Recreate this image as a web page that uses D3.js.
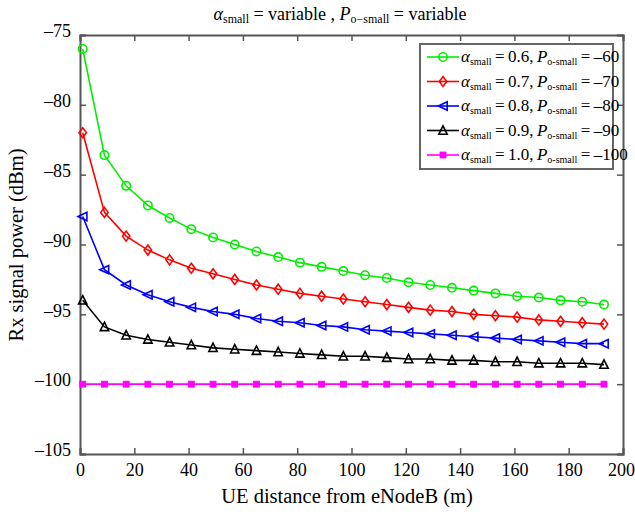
<!DOCTYPE html>
<html><head><meta charset="utf-8">
<script src="https://cdn.jsdelivr.net/npm/d3@7"></script>
<style>body{margin:0;background:#fff}svg{display:block}</style>
</head><body><svg id="c" width="635" height="517"></svg>
<script>
const distance = [1,9,17,25,33,41,49,57,65,73,81,89,97,105,113,121,129,137,145,153,161,169,177,185,193];
const series06 = [-76.0,-83.6,-85.8,-87.2,-88.1,-88.9,-89.5,-90.0,-90.5,-90.9,-91.3,-91.6,-91.9,-92.2,-92.4,-92.7,-92.9,-93.1,-93.3,-93.5,-93.7,-93.8,-94.0,-94.1,-94.3];
const series07 = [-82.0,-87.7,-89.4,-90.4,-91.1,-91.7,-92.1,-92.5,-92.9,-93.2,-93.5,-93.7,-93.9,-94.1,-94.3,-94.5,-94.7,-94.8,-95.0,-95.1,-95.2,-95.4,-95.5,-95.6,-95.7];
const series08 = [-88.0,-91.8,-92.9,-93.6,-94.1,-94.5,-94.8,-95.0,-95.3,-95.5,-95.6,-95.8,-95.9,-96.1,-96.2,-96.3,-96.4,-96.5,-96.6,-96.7,-96.8,-96.9,-97.0,-97.1,-97.1];
const series09 = [-94.0,-95.9,-96.5,-96.8,-97.0,-97.2,-97.4,-97.5,-97.6,-97.7,-97.8,-97.9,-98.0,-98.0,-98.1,-98.2,-98.2,-98.3,-98.3,-98.4,-98.4,-98.5,-98.5,-98.5,-98.6];
const series10 = [-100,-100,-100,-100,-100,-100,-100,-100,-100,-100,-100,-100,-100,-100,-100,-100,-100,-100,-100,-100,-100,-100,-100,-100,-100];
const alphas = ["0.6","0.7","0.8","0.9","1.0"];
const p0s = ["–60","–70","–80","–90","–100"];
const xTicks = [0,20,40,60,80,100,120,140,160,180,200];
const yTicks = [-75,-80,-85,-90,-95,-100,-105];

const seriesList = [
  {vals: series06, color: "#00ee00", marker: "circle"},
  {vals: series07, color: "#ff0000", marker: "diamond"},
  {vals: series08, color: "#0000ff", marker: "triLeft"},
  {vals: series09, color: "#000000", marker: "triUp"},
  {vals: series10, color: "#ff00ff", marker: "square"}
];

const FONT = "'Liberation Serif'";
const svg = d3.select("#c");
const L = 80, R = 623, T = 35, B = 454;
const x = d3.scaleLinear().domain([0,200]).range([L,R]);
const y = d3.scaleLinear().domain([-105,-75]).range([B,T]);
const fmt = d => (d < 0 ? "–" + Math.abs(d) : String(d));

const axCol = "#555";
const gB = svg.append("g").attr("transform",`translate(0,${B})`).call(d3.axisBottom(x).tickValues(xTicks).tickSize(-6).tickPadding(9).tickFormat(fmt));
const gT = svg.append("g").attr("transform",`translate(0,${T})`).call(d3.axisTop(x).tickValues(xTicks).tickSize(-6).tickFormat(""));
const gL = svg.append("g").attr("transform",`translate(${L},0)`).call(d3.axisLeft(y).tickValues(yTicks).tickSize(-6).tickPadding(9).tickFormat(fmt));
const gR = svg.append("g").attr("transform",`translate(${R},0)`).call(d3.axisRight(y).tickValues(yTicks).tickSize(-6).tickFormat(""));
[gB,gT,gL,gR].forEach(g=>{
  g.select(".domain").attr("stroke",axCol).attr("stroke-width",2);
  g.selectAll(".tick line").attr("stroke",axCol).attr("stroke-width",1.5);
  g.selectAll(".tick text").attr("fill","#000").style("font-family",FONT).style("font-size","18px");
});
gL.selectAll(".tick text").attr("dy","0.1em");
gB.selectAll(".tick text").filter(d=>d===200).attr("dx","-2");

function drawMarker(g, type, cx, cy, color){
  const s = 4.2;
  if(type==="circle"){
    g.append("circle").attr("cx",cx).attr("cy",cy).attr("r",s).attr("fill","none").attr("stroke",color).attr("stroke-width",1.6);
  } else if(type==="diamond"){
    g.append("path").attr("d",`M${cx},${cy-s-0.8}L${cx+s-0.5},${cy}L${cx},${cy+s+0.8}L${cx-s+0.5},${cy}Z`).attr("fill","none").attr("stroke",color).attr("stroke-width",1.6);
  } else if(type==="triLeft"){
    g.append("path").attr("d",`M${cx-s-0.5},${cy}L${cx+s},${cy-s}L${cx+s},${cy+s}Z`).attr("fill","none").attr("stroke",color).attr("stroke-width",1.6);
  } else if(type==="triUp"){
    g.append("path").attr("d",`M${cx},${cy-s-0.5}L${cx+s},${cy+s-0.5}L${cx-s},${cy+s-0.5}Z`).attr("fill","none").attr("stroke",color).attr("stroke-width",1.6);
  } else {
    g.append("rect").attr("x",cx-3).attr("y",cy-3).attr("width",6).attr("height",6).attr("fill",color).attr("stroke",color).attr("stroke-width",0.8);
  }
}

const line = d3.line().x(d=>x(d[0])).y(d=>y(d[1]));
seriesList.forEach(s=>{
  const pts = distance.map((d,i)=>[d,s.vals[i]]);
  const g = svg.append("g");
  g.append("path").attr("d",line(pts)).attr("fill","none").attr("stroke",s.color).attr("stroke-width",1.6);
  pts.forEach(p=>drawMarker(g,s.marker,x(p[0]),y(p[1]),s.color));
});

function sub(t, txt, size){
  t.append("tspan").text(txt).style("font-family",FONT).style("font-size",size).attr("dy","3");
}
const TS = "\u2009";
function richLabel(t, a, p){
  t.append("tspan").text("α").style("font-style","italic").style("font-family",FONT);
  sub(t,"small","10px");
  t.append("tspan").text(TS + "=" + TS + a + "," + TS).attr("dy","-3").style("font-family",FONT);
  t.append("tspan").text("P").style("font-style","italic").style("font-family",FONT);
  sub(t,"o-small","10px");
  t.append("tspan").text(TS + "=" + TS + p).attr("dy","-3").style("font-family",FONT);
}
const title = svg.append("text").attr("x",340).attr("y",20).attr("text-anchor","middle").style("font-family",FONT).style("font-size","18px");
title.append("tspan").text("α").style("font-style","italic").style("font-family",FONT);
sub(title,"small","12px");
title.append("tspan").text(" = variable , ").attr("dy","-3").style("font-family",FONT);
title.append("tspan").text("P").style("font-style","italic").style("font-family",FONT);
sub(title,"o−small","12px");
title.append("tspan").text(" = variable").attr("dy","-3").style("font-family",FONT);

svg.append("text").attr("x",347).attr("y",503).attr("text-anchor","middle").style("font-family",FONT).style("font-size","20.5px").text("UE distance from eNodeB (m)");
svg.append("text").attr("transform","translate(23,245) rotate(-90)").attr("text-anchor","middle").style("font-family",FONT).style("font-size","20.5px").text("Rx signal power (dBm)");

const lg = svg.append("g");
lg.append("rect").attr("x",420).attr("y",44).attr("width",193).attr("height",125).attr("fill","#fff").attr("stroke","#666").attr("stroke-width",2);
seriesList.forEach((s,i)=>{
  const cy = 57 + i*24.5;
  lg.append("line").attr("x1",427).attr("x2",459).attr("y1",cy).attr("y2",cy).attr("stroke",s.color).attr("stroke-width",1.6);
  drawMarker(lg,s.marker,443,cy,s.color);
  const t = lg.append("text").attr("x",461).attr("y",cy+5).style("font-family",FONT).style("font-size","17px");
  richLabel(t, alphas[i], p0s[i]);
});
</script></body></html>
